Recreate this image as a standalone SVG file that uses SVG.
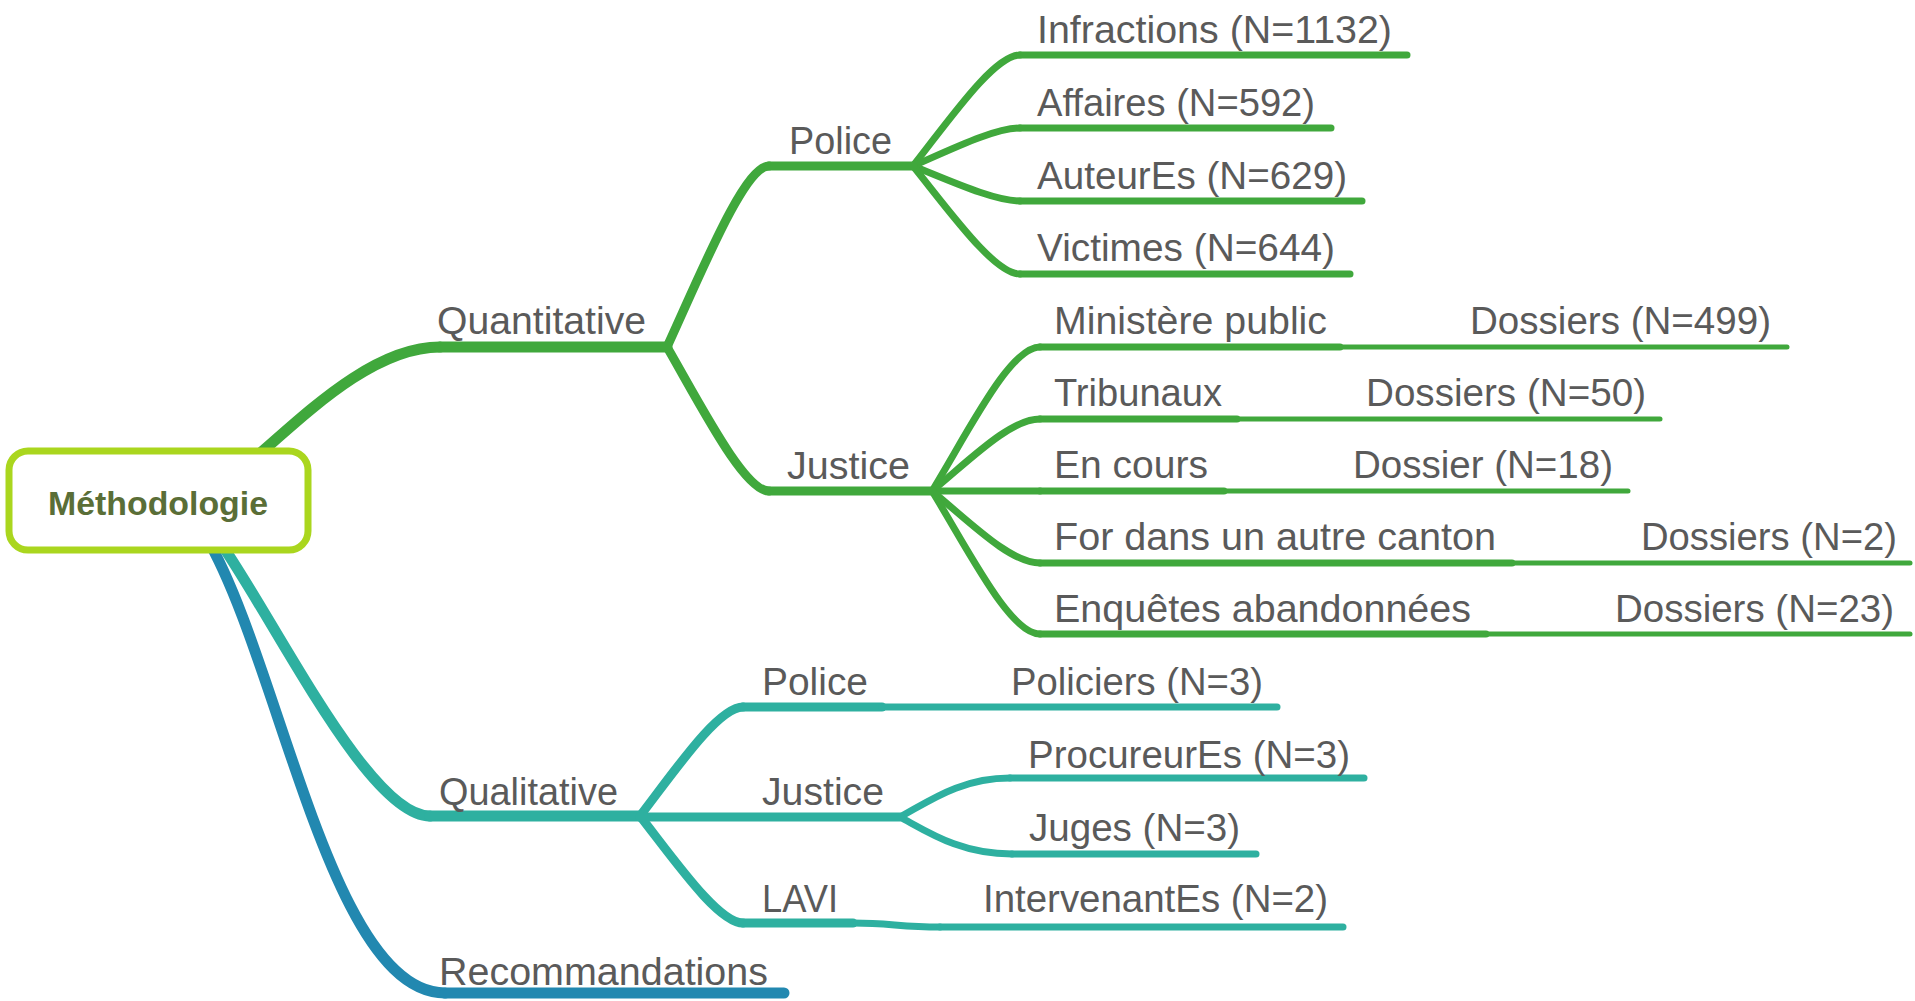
<svg xmlns="http://www.w3.org/2000/svg" width="1915" height="1001" viewBox="0 0 1915 1001">
<style>
.c{fill:none;stroke-linecap:round;stroke-linejoin:round}
.g{stroke:#40a83c}
.t{stroke:#2eb0a0}
.b{stroke:#2288b0}
.l1{stroke-width:11}
.l2{stroke-width:9}
.l3{stroke-width:7}
.l4{stroke-width:5}
text{font-family:"Liberation Sans",Arial,Helvetica,sans-serif;font-size:38px;fill:#5a5a5a}
.root{font-weight:bold;font-size:33px;fill:#5a6e37}
</style>
<rect width="1915" height="1001" fill="#ffffff"/>
<g id="connectors">
  <path class="c g l1" d="M250,462 C300,420 370,347 440,347"/>
  <path class="c t l1" d="M222,545 C280,630 370,816 430,816"/>
  <path class="c b l1" d="M205,535 C280,660 330,993 445,993"/>
  <path class="c g l2" d="M667,347 C702.7,269.2 744.5,166 769,166"/>
  <path class="c g l2" d="M667,347 C702.7,408.9 744.5,491 769,491"/>
  <path class="c g l3" d="M913,166 C950.5,118.3 994.3,55 1020,55"/>
  <path class="c g l3" d="M913,166 C950.5,149.7 994.3,128 1020,128"/>
  <path class="c g l3" d="M913,166 C950.5,181 994.3,201 1020,201"/>
  <path class="c g l3" d="M913,166 C950.5,212.4 994.3,274 1020,274"/>
  <path class="c g l3" d="M932,491 C969.8,429.1 1010,347 1040,347"/>
  <path class="c g l3" d="M932,491 C969.8,460 1010,419 1040,419"/>
  <path class="c g l3" d="M932,491 L1040,491"/>
  <path class="c g l3" d="M932,491 C969.8,522 1010,563 1040,563"/>
  <path class="c g l3" d="M932,491 C969.8,552.5 1010,634 1040,634"/>
  <path class="c g l4" d="M1340,347 L1787,347"/>
  <path class="c g l4" d="M1237,419 L1660,419"/>
  <path class="c g l4" d="M1224,491 L1628,491"/>
  <path class="c g l4" d="M1512,563 L1910,563"/>
  <path class="c g l4" d="M1486,634 L1910,634"/>
  <path class="c t l2" d="M640,816 C676,769.1 718.3,707 743,707"/>
  <path class="c t l2" d="M640,816 C676,862 718.3,923 743,923"/>
  <path class="c t l3" d="M900,817 C928,802 960,778 1010,778"/>
  <path class="c t l3" d="M900,817 C928,832 960,854 1012,854"/>
  <path class="c t l3" d="M853,923 C890,923 900,927 940,927"/>
</g>
<g id="n-quantitative">
  <path class="c g l1" d="M440,347 L667,347"/>
  <text x="437" y="334" textLength="209" lengthAdjust="spacingAndGlyphs">Quantitative</text>
</g>
<g id="n-quant-police">
  <path class="c g l2" d="M769,166 L913,166"/>
  <text x="789" y="154" textLength="103" lengthAdjust="spacingAndGlyphs">Police</text>
</g>
<g id="n-infractions">
  <path class="c g l3" d="M1020,55 L1407,55"/>
  <text x="1037" y="43" textLength="355" lengthAdjust="spacingAndGlyphs">Infractions (N=1132)</text>
</g>
<g id="n-affaires">
  <path class="c g l3" d="M1020,128 L1331,128"/>
  <text x="1037" y="116" textLength="278" lengthAdjust="spacingAndGlyphs">Affaires (N=592)</text>
</g>
<g id="n-auteures">
  <path class="c g l3" d="M1020,201 L1362,201"/>
  <text x="1037" y="189" textLength="310" lengthAdjust="spacingAndGlyphs">AuteurEs (N=629)</text>
</g>
<g id="n-victimes">
  <path class="c g l3" d="M1020,274 L1350,274"/>
  <text x="1037" y="261" textLength="298" lengthAdjust="spacingAndGlyphs">Victimes (N=644)</text>
</g>
<g id="n-quant-justice">
  <path class="c g l2" d="M769,491 L932,491"/>
  <text x="787" y="479" textLength="123" lengthAdjust="spacingAndGlyphs">Justice</text>
</g>
<g id="n-ministere">
  <path class="c g l3" d="M1040,347 L1340,347"/>
  <text x="1054" y="334" textLength="273" lengthAdjust="spacingAndGlyphs">Ministère public</text>
</g>
<g id="n-dossiers-499">
  <text x="1470" y="334" textLength="301" lengthAdjust="spacingAndGlyphs">Dossiers (N=499)</text>
</g>
<g id="n-tribunaux">
  <path class="c g l3" d="M1040,419 L1237,419"/>
  <text x="1054" y="406" textLength="168" lengthAdjust="spacingAndGlyphs">Tribunaux</text>
</g>
<g id="n-dossiers-50">
  <text x="1366" y="406" textLength="280" lengthAdjust="spacingAndGlyphs">Dossiers (N=50)</text>
</g>
<g id="n-encours">
  <path class="c g l3" d="M1040,491 L1224,491"/>
  <text x="1054" y="478" textLength="154" lengthAdjust="spacingAndGlyphs">En cours</text>
</g>
<g id="n-dossier-18">
  <text x="1353" y="478" textLength="260" lengthAdjust="spacingAndGlyphs">Dossier (N=18)</text>
</g>
<g id="n-for">
  <path class="c g l3" d="M1040,563 L1512,563"/>
  <text x="1054" y="550" textLength="442" lengthAdjust="spacingAndGlyphs">For dans un autre canton</text>
</g>
<g id="n-dossiers-2">
  <text x="1641" y="550" textLength="256" lengthAdjust="spacingAndGlyphs">Dossiers (N=2)</text>
</g>
<g id="n-enquetes">
  <path class="c g l3" d="M1040,634 L1486,634"/>
  <text x="1054" y="622" textLength="417" lengthAdjust="spacingAndGlyphs">Enquêtes abandonnées</text>
</g>
<g id="n-dossiers-23">
  <text x="1615" y="622" textLength="279" lengthAdjust="spacingAndGlyphs">Dossiers (N=23)</text>
</g>
<g id="n-qualitative">
  <path class="c t l1" d="M430,816 L640,816"/>
  <text x="439" y="805" textLength="179" lengthAdjust="spacingAndGlyphs">Qualitative</text>
</g>
<g id="n-qual-police">
  <path class="c t l2" d="M743,707 L882,707"/>
  <text x="762" y="695" textLength="106" lengthAdjust="spacingAndGlyphs">Police</text>
</g>
<g id="n-policiers">
  <path class="c t l3" d="M882,707 L1277,707"/>
  <text x="1011" y="695" textLength="252" lengthAdjust="spacingAndGlyphs">Policiers (N=3)</text>
</g>
<g id="n-qual-justice">
  <path class="c t l2" d="M640,817 L900,817"/>
  <text x="762" y="805" textLength="122" lengthAdjust="spacingAndGlyphs">Justice</text>
</g>
<g id="n-procureures">
  <path class="c t l3" d="M1010,778 L1364,778"/>
  <text x="1028" y="768" textLength="322" lengthAdjust="spacingAndGlyphs">ProcureurEs (N=3)</text>
</g>
<g id="n-juges">
  <path class="c t l3" d="M1012,854 L1256,854"/>
  <text x="1029" y="841" textLength="211" lengthAdjust="spacingAndGlyphs">Juges (N=3)</text>
</g>
<g id="n-lavi">
  <path class="c t l2" d="M743,923 L853,923"/>
  <text x="762" y="912" textLength="76" lengthAdjust="spacingAndGlyphs">LAVI</text>
</g>
<g id="n-intervenantes">
  <path class="c t l3" d="M940,927 L1343,927"/>
  <text x="983" y="912" textLength="345" lengthAdjust="spacingAndGlyphs">IntervenantEs (N=2)</text>
</g>
<g id="n-recommandations">
  <path class="c b l1" d="M445,993 L784,993"/>
  <text x="439" y="985" textLength="329" lengthAdjust="spacingAndGlyphs">Recommandations</text>
</g>
<g id="n-root">
  <rect x="9" y="451" width="299" height="99" rx="19" ry="19" fill="#ffffff" stroke="#aad61e" stroke-width="7"/>
  <text class="root" x="48" y="515" textLength="220" lengthAdjust="spacingAndGlyphs">Méthodologie</text>
</g>
</svg>
